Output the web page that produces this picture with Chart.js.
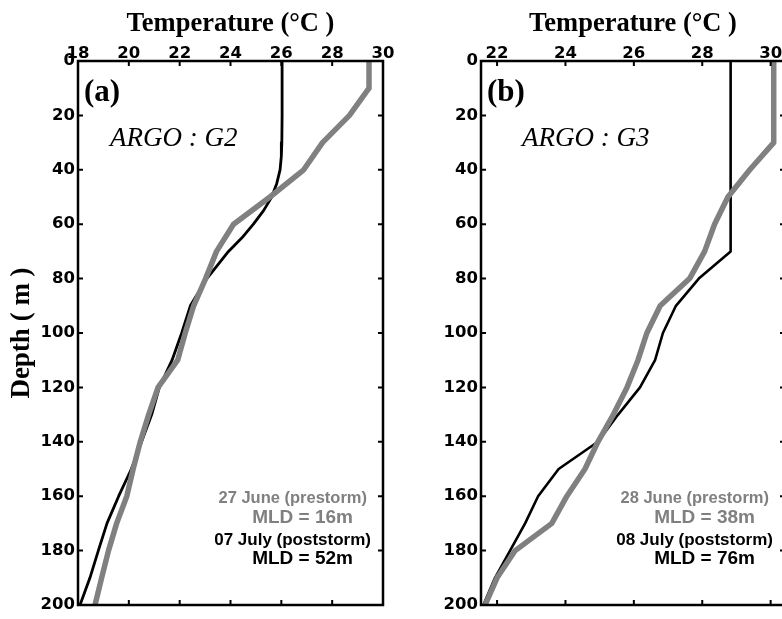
<!DOCTYPE html>
<html><head><meta charset="utf-8">
<script src="https://cdn.jsdelivr.net/npm/chart.js@4.4.1/dist/chart.umd.min.js"></script>
<style>
html,body{margin:0;padding:0;background:#fff;width:782px;height:619px;overflow:hidden;position:relative;}
#wrapA{position:absolute;left:0;top:0;width:400px;height:619px;}
#wrapB{position:absolute;left:400px;top:0;width:400px;height:619px;}
</style></head><body>
<div id="wrapA"><canvas id="cA" width="400" height="619"></canvas></div>
<div id="wrapB"><canvas id="cB" width="400" height="619"></canvas></div>
<script>
// ---- data (depth in m, temperature in °C) ----
const depthTicks = [0,20,40,60,80,100,120,140,160,180,200];
const tempTicksA = [18,20,22,24,26,28,30];
const tempTicksB = [22,24,26,28,30];

const depthStd = [0,10,20,30,40,50,60,70,80,90,100,110,120,130,140,150,160,170,180,190,200];

// Panel (a) ARGO G2
const preA_temp  = [29.45,29.45,28.68,27.62,26.88,25.55,24.12,23.45,23.02,22.55,22.22,21.92,21.15,20.78,20.45,20.17,19.92,19.52,19.2,18.93,18.67];
const postA_depth = [0,10,20,30,35,40,45,50,55,60,65,70,80,90,100,110,120,130,140,150,160,170,180,190,200];
const postA_temp  = [26.03,26.03,26.03,26.02,26.0,25.95,25.82,25.62,25.3,24.9,24.45,23.92,23.07,22.42,22.08,21.7,21.2,20.9,20.5,20.1,19.6,19.14,18.8,18.47,18.08];

// Panel (b) ARGO G3
const preB_temp  = [30.09,30.09,30.09,30.09,29.39,28.75,28.36,28.07,27.63,26.77,26.38,26.12,25.8,25.4,24.95,24.57,24.04,23.6,22.53,22.0,21.65];
const postB_temp = [28.83,28.83,28.83,28.83,28.83,28.83,28.83,28.83,27.9,27.23,26.85,26.62,26.18,25.54,24.95,23.8,23.2,22.82,22.38,21.94,21.6];

const seriesNamesA = ['27 June (prestorm)','07 July (poststorm)'];
const mldA = ['MLD = 16m','MLD = 52m'];
const seriesNamesB = ['28 June (prestorm)','08 July (poststorm)'];
const mldB = ['MLD = 38m','MLD = 76m'];

const GRAY = '#808080';
const TICK_FONT = {family:'DejaVu Sans', weight:'bold', size:16.5};
const SERIF = 'Liberation Serif, Times New Roman, serif';

function pts(xs, ys){ return xs.map((x,i)=>({x:x, y:ys[i]})); }

const framePlugin = {
  id:'frame',
  afterDatasetsDraw(chart){
    const {ctx, chartArea:a} = chart;
    const xs = chart.scales.x, ys = chart.scales.y;
    ctx.save();
    ctx.strokeStyle = '#000';
    ctx.lineWidth = 2;
    const L = 5;
    ctx.beginPath();
    xs.ticks.forEach(t=>{
      const px = xs.getPixelForValue(t.value);
      ctx.moveTo(px, a.top); ctx.lineTo(px, a.top+L);
      ctx.moveTo(px, a.bottom); ctx.lineTo(px, a.bottom-L);
    });
    ys.ticks.forEach(t=>{
      const py = ys.getPixelForValue(t.value);
      ctx.moveTo(a.left, py); ctx.lineTo(a.left+L, py);
      ctx.moveTo(a.right, py); ctx.lineTo(a.right-L, py);
    });
    ctx.stroke();
    ctx.lineWidth = 2.5;
    ctx.strokeRect(a.left, a.top, a.right-a.left, a.bottom-a.top);
    ctx.restore();
  }
};

const textPlugin = {
  id:'notes',
  afterDraw(chart){
    const o = chart.options.plugins.notes;
    if(!o) return;
    const {ctx, chartArea:a} = chart;
    ctx.save();
    ctx.fillStyle = '#000';
    ctx.textBaseline = 'middle';
    ctx.textAlign = 'left';
    ctx.font = 'bold 31px ' + SERIF;
    ctx.fillText(o.panel, a.left+6, 93);
    ctx.font = 'italic 27px ' + SERIF;
    ctx.fillText(o.argo, a.left + o.argoDx, 139);
    ctx.textAlign = 'right';
    ctx.fillStyle = GRAY;
    ctx.font = 'bold 16.5px Liberation Sans, Arial, sans-serif';
    ctx.fillText(o.names[0], a.right-16, 498);
    ctx.font = 'bold 19px Liberation Sans, Arial, sans-serif';
    ctx.fillText(o.mld[0], a.right-30, 518);
    ctx.fillStyle = '#000';
    ctx.font = 'bold 17px Liberation Sans, Arial, sans-serif';
    ctx.fillText(o.names[1], a.right-12, 540);
    ctx.font = 'bold 19px Liberation Sans, Arial, sans-serif';
    ctx.fillText(o.mld[1], a.right-30, 559);
    ctx.restore();
  }
};

function makeChart(id, cfg){
  return new Chart(document.getElementById(id), {
    type:'scatter',
    data:{datasets:[
      {label:cfg.names[0], data:cfg.pre, showLine:true, borderColor:GRAY, borderWidth:5.5, pointRadius:0, tension:0, borderJoinStyle:'round', borderCapStyle:'butt'},
      {label:cfg.names[1], data:cfg.post, showLine:true, borderColor:'#000', borderWidth:cfg.blackW, pointRadius:0, tension:0, borderJoinStyle:'round'}
    ]},
    options:{
      responsive:false, animation:false, devicePixelRatio:1,
      layout:{padding:{left:0, top:0, right:cfg.rightPad, bottom:14}},
      plugins:{legend:{display:false}, tooltip:{enabled:false},
        notes:{panel:cfg.panel, argo:cfg.argo, argoDx:cfg.argoDx, names:cfg.names, mld:cfg.mld}},
      scales:{
        x:{type:'linear', position:'top', min:cfg.xmin, max:cfg.xmax,
          afterBuildTicks:s=>{ s.ticks = cfg.xticks.map(v=>({value:v})); },
          afterFit:s=>{ s.height = 61; },
          grid:{display:false, drawTicks:false}, border:{display:false},
          ticks:{font:TICK_FONT, color:'#000', padding:-3, maxRotation:0, autoSkip:false},
          title:{display:true, text:'Temperature (°C )', color:'#000', font:{family:SERIF, weight:'bold', size:26.5}, padding:{top:8,bottom:0}}
        },
        y:{type:'linear', position:'left', reverse:true, min:0, max:200,
          afterBuildTicks:s=>{ s.ticks = depthTicks.map(v=>({value:v})); },
          afterFit:s=>{ s.width = cfg.leftW; },
          grid:{display:false, drawTicks:false}, border:{display:false},
          ticks:{font:TICK_FONT, color:'#000', padding:3, autoSkip:false},
          title:{display:cfg.ytitle, text:'Depth ( m )', color:'#000', font:{family:SERIF, weight:'bold', size:27}, padding:{top:6,bottom:0}}
        }
      }
    },
    plugins:[framePlugin, textPlugin]
  });
}

makeChart('cA', {
  pre: pts(preA_temp, depthStd), post: pts(postA_temp, postA_depth),
  xmin:18, xmax:30, xticks:tempTicksA, leftW:78, rightPad:17, ytitle:true,
  panel:'(a)', argo:'ARGO : G2', argoDx:32, names:seriesNamesA, mld:mldA, blackW:2.8
});
makeChart('cB', {
  pre: pts(preB_temp, depthStd), post: pts(postB_temp, depthStd),
  xmin:21.53, xmax:30.42, xticks:tempTicksB, leftW:81, rightPad:15, ytitle:false,
  panel:'(b)', argo:'ARGO : G3', argoDx:41, names:seriesNamesB, mld:mldB, blackW:2.6
});
</script>
</body></html>
